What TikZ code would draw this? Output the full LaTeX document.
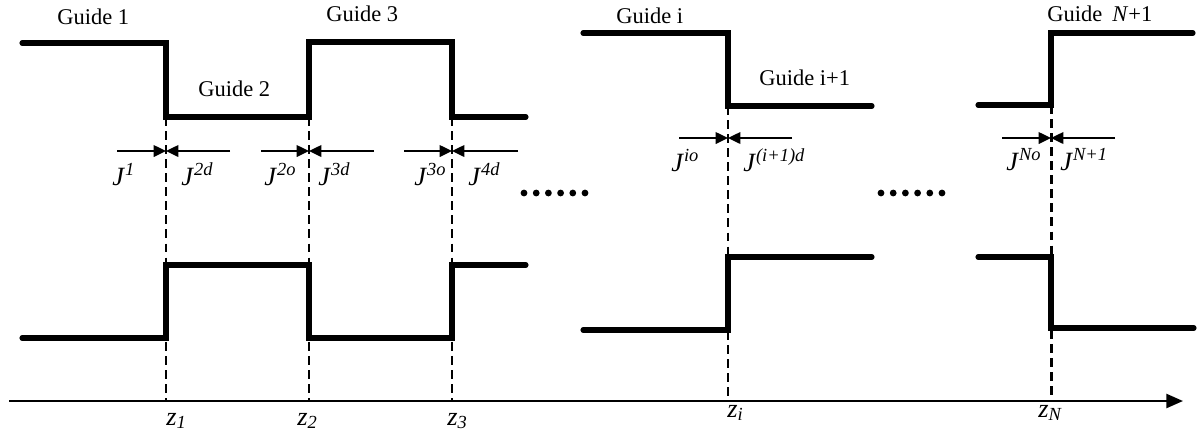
\documentclass[tikz,border=0pt]{standalone}
\usepackage{fontspec}
\setmainfont{Liberation Serif}
\usetikzlibrary{arrows.meta}

\newcommand{\Jlab}[1]{\textit{J}\textsuperscript{\textit{#1}}}
\newcommand{\zlab}[1]{\textit{z}\textsubscript{\textit{#1}}}

\begin{document}
\begin{tikzpicture}[
	x=0.02cm, y=-0.02cm,
	font=\fontsize{12.8}{15}\selectfont,
	guide/.style={line width=2.9pt, line cap=round, line join=miter},
	iface/.style={line width=1.7pt, dash pattern=on 5pt off 3pt},
	flux/.style={-{Triangle[length=7pt,width=6.5pt]}, line width=1.2pt},
	axis/.style={-{Triangle[length=9.5pt,width=8pt]}, line width=1.3pt},
	lab/.style={anchor=base west, inner sep=0pt},
	jlab/.style={lab, font=\fontsize{15}{18}\selectfont},
	dot/.style={fill=black}
]
\useasboundingbox (0,0) rectangle (1198,437);

% Upper index profile
\draw[guide] (22,43) -- (166,43) -- (166,117) -- (309,117) -- (309,42)
	-- (452,42) -- (452,117) -- (526,117);
\draw[guide] (583,33) -- (728,33) -- (728,106) -- (872,106);
\draw[guide] (978,105) -- (1051,105) -- (1051,33) -- (1193,33);

% Lower index profile
\draw[guide] (22,338) -- (166,338) -- (166,265) -- (309,265) -- (309,338)
	-- (452,338) -- (452,265) -- (526,265);
\draw[guide] (583,330) -- (728,330) -- (728,257) -- (872,257);
\draw[guide] (978,257) -- (1051,257) -- (1051,328) -- (1194,328);

% Interfaces: dashed line and the two incoming arrows
\foreach \n/\x/\yt/\ya/\xl/\xr in {1/166/117/151/117/230, 2/309/117/151/261/374,
	3/452/117/151/404/518, i/728/106/138/679/792, N/1051/105/138/1002/1115} {
	\coordinate (t\n) at (\x,\yt);
	\coordinate (b\n) at (\x,400);
	\coordinate (m\n) at (\x,\ya);
	\coordinate (l\n) at (\xl,\ya);
	\coordinate (r\n) at (\xr,\ya);
	\draw[iface] (t\n) -- (b\n);
	\draw[flux] (l\n) -- (m\n);
	\draw[flux] (r\n) -- (m\n);
}

% z axis
\coordinate (ax0) at (9,401);
\coordinate (ax1) at (1183,401);
\draw[axis] (ax0) -- (ax1);

% Dots
\foreach \k in {0,...,5} {
	\fill[dot] (524+12.2*\k,193) circle (3.4);
	\fill[dot] (881+12.2*\k,193) circle (3.4);
}

% Guide labels
\node[lab] (g1) at (57,24) {Guide 1};
\node[lab] (g2) at (198,96) {Guide 2};
\node[lab] (g3) at (326,21) {Guide 3};
\node[lab] (gi) at (616,23) {Guide i};
\node[lab] (gi1) at (759,85) {Guide i+1};
\node[lab] (gN) at (1047,21) {Guide\hspace{0.45em}\textit{N}+1};

% Field labels
\node[jlab] (j1) at (112,185) {\Jlab{1}};
\node[jlab] (j2d) at (181,185) {\Jlab{2d}};
\node[jlab] (j2o) at (264,185) {\Jlab{2o}};
\node[jlab] (j3d) at (318,185) {\Jlab{3d}};
\node[jlab] (j3o) at (414,185) {\Jlab{3o}};
\node[jlab] (j4d) at (468,185) {\Jlab{4d}};
\node[jlab] (jio) at (671,171) {\Jlab{io}};
\node[jlab] (jid) at (743,171) {\Jlab{(i+1)d}};
\node[jlab] (jNo) at (1006,170) {\Jlab{No}};
\node[jlab] (jN1) at (1060,170) {\Jlab{N+1}};

% Interface positions
\node[jlab] (z1) at (166,425) {\zlab{1}};
\node[jlab] (z2) at (297,425) {\zlab{2}};
\node[jlab] (z3) at (447,425) {\zlab{3}};
\node[jlab] (zi) at (727,417) {\zlab{i}};
\node[jlab] (zN) at (1038,417) {\zlab{N}};

\end{tikzpicture}
\end{document}
